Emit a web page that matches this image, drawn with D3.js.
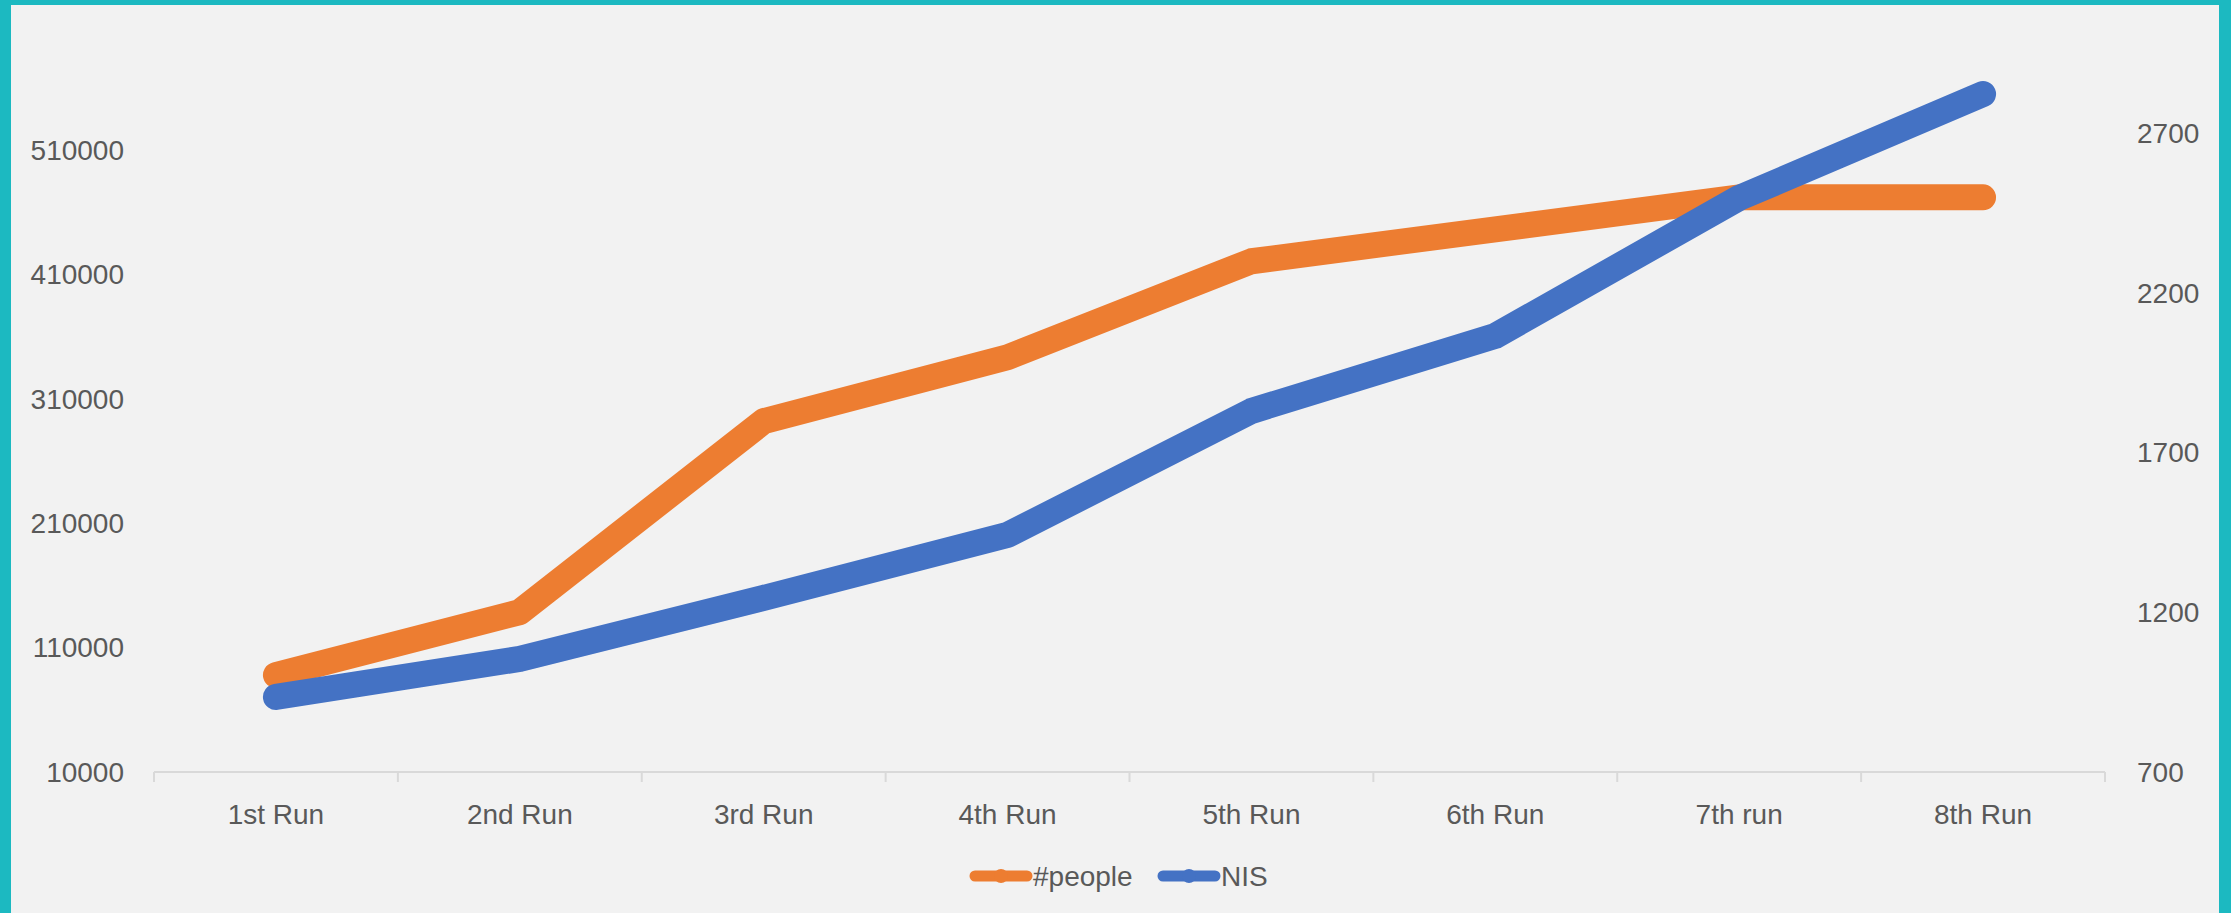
<!DOCTYPE html>
<html>
<head>
<meta charset="utf-8">
<script src="https://cdn.jsdelivr.net/npm/d3@7"></script>
<style>
  html, body { margin: 0; padding: 0; background: #f2f2f2; }
  svg text { font-family: "Liberation Sans", Arial, sans-serif; fill: #595959; }
</style>
</head>
<body>
<div class="chart"></div>
<script>
const svgWidth = 2231;
const svgHeight = 913;

// data
const runs = ["1st Run", "2nd Run", "3rd Run", "4th Run", "5th Run", "6th Run", "7th run", "8th Run"];
const people = [88000, 138600, 292200, 343600, 420800, 446500, 472200, 472200];
const nis = [935, 1054, 1245, 1442, 1830, 2065, 2497, 2822];
const leftTicks = [10000, 110000, 210000, 310000, 410000, 510000];
const rightTicks = [700, 1200, 1700, 2200, 2700];

const plot = { left: 154, right: 2105, top: 26, bottom: 772 };

const svg = d3.select(".chart")
    .append("svg")
    .attr("width", svgWidth)
    .attr("height", svgHeight);

svg.append("rect")
    .attr("width", svgWidth)
    .attr("height", svgHeight)
    .attr("fill", "#f2f2f2");

// teal frame (left, top, right)
svg.append("rect").attr("x", 0).attr("y", 0).attr("width", 11).attr("height", svgHeight).attr("fill", "#1cb9c1");
svg.append("rect").attr("x", 0).attr("y", 0).attr("width", svgWidth).attr("height", 5).attr("fill", "#1cb9c1");
svg.append("rect").attr("x", 2219).attr("y", 0).attr("width", svgWidth - 2219).attr("height", svgHeight).attr("fill", "#1cb9c1");

const x = d3.scaleBand()
    .domain(runs)
    .range([plot.left, plot.right]);

const yLeft = d3.scaleLinear()
    .domain([10000, 610000])
    .range([plot.bottom, plot.top]);

const yRight = d3.scaleLinear()
    .domain([700, 3035])
    .range([plot.bottom, plot.top]);

// x axis line + ticks at band edges
svg.append("line")
    .attr("x1", plot.left).attr("x2", plot.right)
    .attr("y1", plot.bottom).attr("y2", plot.bottom)
    .attr("stroke", "#d9d9d9").attr("stroke-width", 2);

const edges = runs.map(r => x(r)).concat([plot.right]);
svg.selectAll(".xtick")
    .data(edges)
    .enter()
    .append("line")
    .attr("x1", d => d).attr("x2", d => d)
    .attr("y1", plot.bottom).attr("y2", plot.bottom + 10)
    .attr("stroke", "#d9d9d9").attr("stroke-width", 2);

svg.selectAll(".xlabel")
    .data(runs)
    .enter()
    .append("text")
    .attr("x", d => x(d) + x.bandwidth() / 2)
    .attr("y", 814)
    .attr("dy", "0.35em")
    .attr("text-anchor", "middle")
    .style("font-size", "28px")
    .text(d => d);

// left labels
svg.selectAll(".ylabel")
    .data(leftTicks)
    .enter()
    .append("text")
    .attr("x", 124)
    .attr("y", d => yLeft(d))
    .attr("dy", "0.35em")
    .attr("text-anchor", "end")
    .style("font-size", "28px")
    .text(d => d);

// right labels
svg.selectAll(".y2label")
    .data(rightTicks)
    .enter()
    .append("text")
    .attr("x", 2137)
    .attr("y", d => yRight(d))
    .attr("dy", "0.35em")
    .attr("text-anchor", "start")
    .style("font-size", "28px")
    .text(d => d);

const cx = d => x(d) + x.bandwidth() / 2;

const peopleLine = d3.line()
    .x((d, i) => cx(runs[i]))
    .y(d => yLeft(d));

const nisLine = d3.line()
    .x((d, i) => cx(runs[i]))
    .y(d => yRight(d));

svg.append("path")
    .datum(people)
    .attr("d", peopleLine)
    .attr("fill", "none")
    .attr("stroke", "#ed7d31")
    .attr("stroke-width", 26)
    .attr("stroke-linecap", "round")
    .attr("stroke-linejoin", "round");

svg.append("path")
    .datum(nis)
    .attr("d", nisLine)
    .attr("fill", "none")
    .attr("stroke", "#4472c4")
    .attr("stroke-width", 26)
    .attr("stroke-linecap", "round")
    .attr("stroke-linejoin", "round");

// legend
const legendItems = [
    { name: "#people", color: "#ed7d31", x0: 975 },
    { name: "NIS", color: "#4472c4", x0: 1163 }
];

const legend = svg.selectAll(".legend")
    .data(legendItems)
    .enter()
    .append("g")
    .attr("transform", d => `translate(${d.x0}, 876)`);

legend.append("line")
    .attr("x1", 0).attr("x2", 52)
    .attr("y1", 0).attr("y2", 0)
    .attr("stroke", d => d.color)
    .attr("stroke-width", 11)
    .attr("stroke-linecap", "round");

legend.append("circle")
    .attr("cx", 26).attr("cy", 0).attr("r", 7)
    .attr("fill", d => d.color);

legend.append("text")
    .attr("x", 58)
    .attr("y", 0)
    .attr("dy", "0.35em")
    .style("font-size", "28px")
    .text(d => d.name);
</script>
</body>
</html>
